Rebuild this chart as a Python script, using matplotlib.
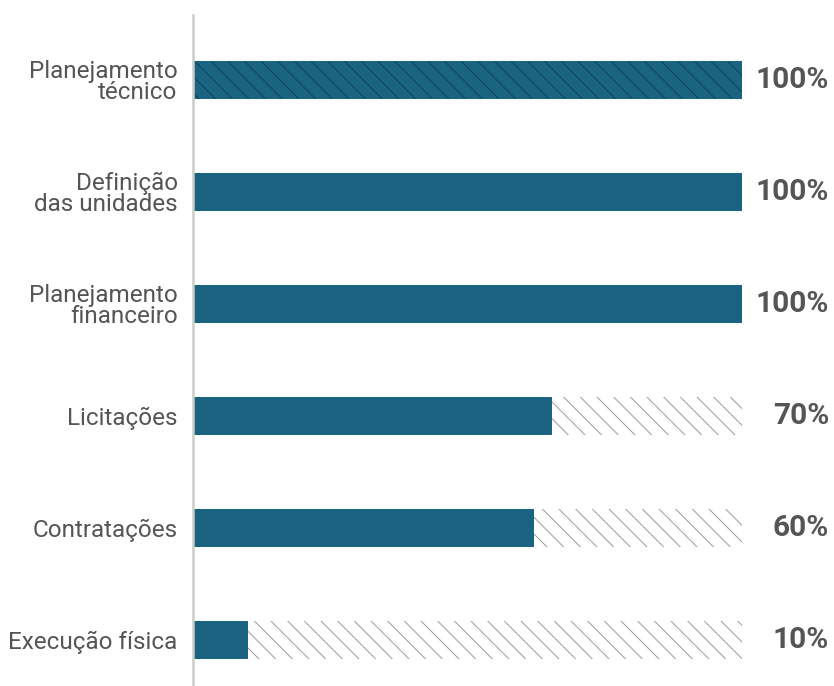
import matplotlib
matplotlib.use("Agg")
import matplotlib.pyplot as plt
import matplotlib.transforms as mtransforms

categories = ["Planejamento\ntécnico", "Definição\ndas unidades", "Planejamento\nfinanceiro",
              "Licitações", "Contratações", "Execução física"]
# bar lengths as drawn in the picture, and the printed labels
values = [100, 100, 100, 65.4, 62.1, 10]
labels = ["100%", "100%", "100%", "70%", "60%", "10%"]
full_hatch = [True, False, False, False, False, False]

plt.rcParams["font.family"] = ["Roboto", "DejaVu Sans"]
plt.rcParams["hatch.linewidth"] = 0.7

teal = "#1a6482"
grey = "#555555"

fig = plt.figure(figsize=(8.34, 6.86), dpi=100)
ax = fig.add_axes([0.2314, 0.0, 0.8897 - 0.2314, 0.978])

y = list(range(len(categories)))
for i, v in enumerate(values):
    if full_hatch[i]:
        ax.barh(i, v, height=0.34, color=teal, edgecolor="#12425a", hatch="\\\\", linewidth=0)
    else:
        ax.barh(i, v, height=0.34, color=teal, linewidth=0)
        if v < 100:
            ax.barh(i, 100 - v, left=v, height=0.34, color="white", edgecolor="#9a9a9a",
                    hatch="\\\\", linewidth=0)

trans = mtransforms.blended_transform_factory(fig.transFigure, ax.transData)
for i, lab in enumerate(labels):
    ax.text(0.994, i, lab, transform=trans, ha="right", va="center",
            fontsize=21.5, fontweight="bold", color=grey)

ax.set_xlim(0, 100)
ax.set_ylim(5.41, -0.58)
ax.set_yticks(y)
ax.set_yticklabels(categories, fontsize=17.5, color=grey, linespacing=0.92)
ax.tick_params(axis="y", length=0, pad=11)
ax.set_xticks([])
for s in ["top", "right", "bottom"]:
    ax.spines[s].set_visible(False)
ax.spines["left"].set_color("#cccccc")
ax.spines["left"].set_linewidth(1.8)

fig.savefig("out.png", dpi=100)
